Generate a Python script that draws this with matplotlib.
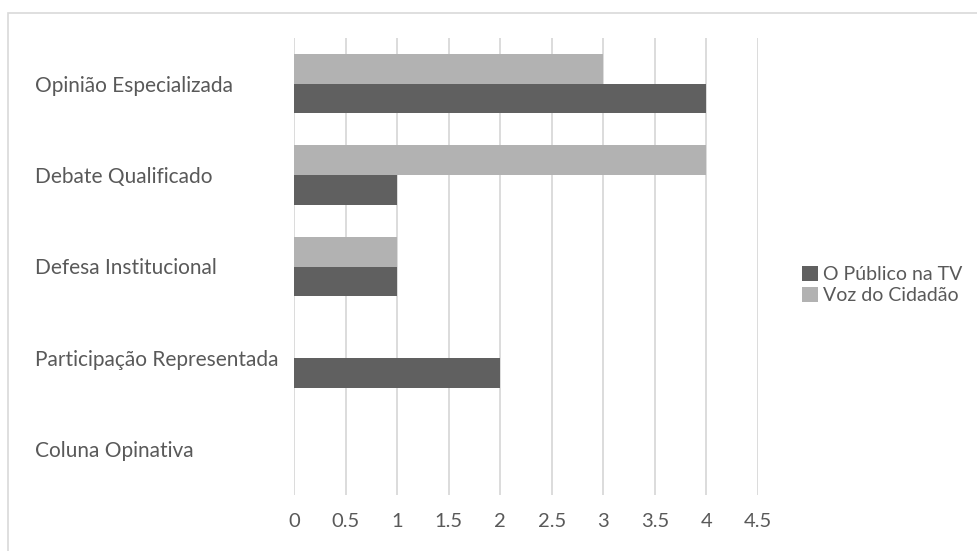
import matplotlib.pyplot as plt
from matplotlib.patches import Rectangle
import numpy as np

plt.rcParams["font.family"] = ["Lato", "DejaVu Sans"]

categories = ["Opinião Especializada", "Debate Qualificado", "Defesa Institucional",
              "Participação Representada", "Coluna Opinativa"]
publico = [4, 1, 1, 2, 0]
voz = [3, 4, 1, 0, 0]
series_names = ["O Público na TV", "Voz do Cidadão"]
x_ticks = [0, 0.5, 1, 1.5, 2, 2.5, 3, 3.5, 4, 4.5]
x_ticklabels = ["0", "0.5", "1", "1.5", "2", "2.5", "3", "3.5", "4", "4.5"]

DARK = "#606060"
LIGHT = "#b2b2b2"
TEXT = "#595959"
GRID = "#d9d9d9"

W, H = 978, 551
fig = plt.figure(figsize=(W / 100, H / 100), dpi=100)
ax = fig.add_axes([294 / W, 1 - 495 / H, (758 - 294) / W, (495 - 38) / H])

y = np.arange(len(categories))
h = 0.326
ax.barh(y + h / 2, publico, height=h, color=DARK, linewidth=0,
        label=series_names[0], zorder=3)
ax.barh(y - h / 2, voz, height=h, color=LIGHT, linewidth=0,
        label=series_names[1], zorder=3)

ax.set_ylim(len(categories) - 0.5, -0.5)
ax.set_xlim(0, 4.5)
ax.set_yticks(y)
ax.set_yticklabels(categories)
ax.set_xticks(x_ticks)
ax.set_xticklabels(x_ticklabels)
ax.tick_params(length=0, colors=TEXT)
# left-aligned category labels start ~35px from the figure edge
ax.tick_params(axis="y", labelsize=15, pad=(294 - 35) * 0.72)
for lbl in ax.get_yticklabels():
    lbl.set_horizontalalignment("left")
ax.tick_params(axis="x", labelsize=14.5, pad=13)
ax.grid(True, axis="x", color=GRID, linewidth=1.3, zorder=0)
for s in ax.spines.values():
    s.set_visible(False)

leg = ax.legend(loc="center left", bbox_to_anchor=(792 / W, 1 - 285 / H),
                bbox_transform=fig.transFigure, frameon=False, fontsize=14,
                handlelength=0.85, handleheight=0.85, handletextpad=0.25,
                labelspacing=0.2, borderpad=0, labelcolor=TEXT)

fig.patches.append(Rectangle((8 / W, -0.1), 1.2, 1 - 13 / H + 0.1, transform=fig.transFigure,
                             fill=False, edgecolor=GRID, linewidth=1.2))

fig.savefig("out.png", dpi=100)
